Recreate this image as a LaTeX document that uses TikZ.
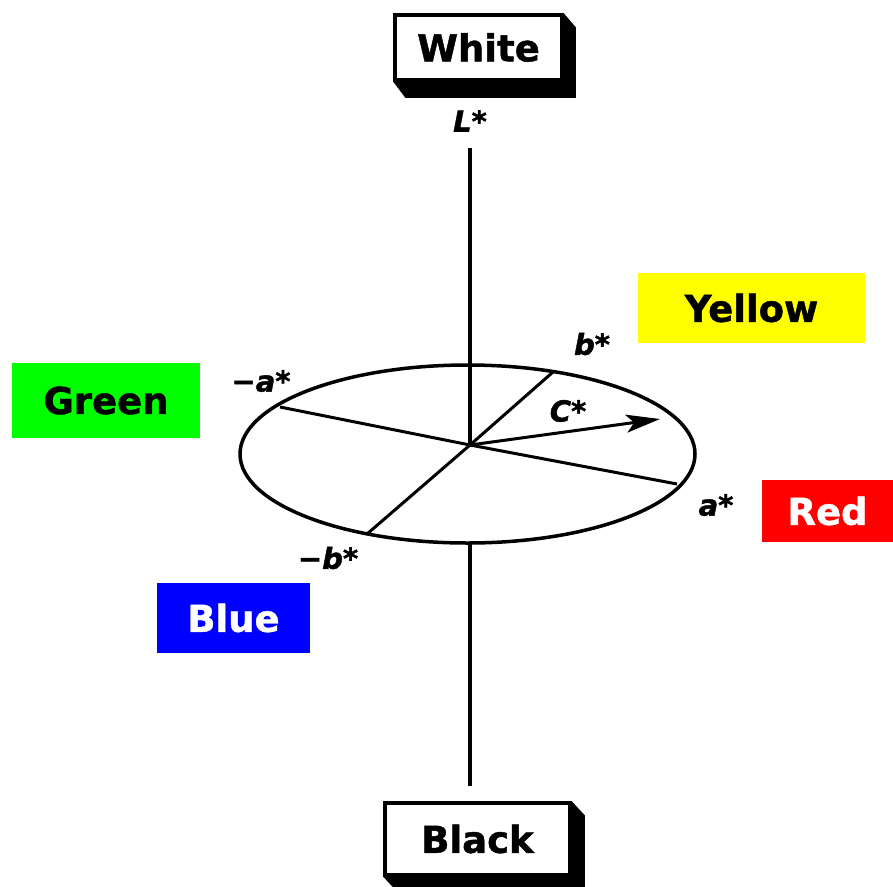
\documentclass[tikz,border=0pt]{standalone}
\usepackage{fontspec}
\setmainfont{DejaVu Sans}[BoldFeatures={FakeBold=1.2},BoldItalicFeatures={FakeBold=1.5}]
\usetikzlibrary{arrows.meta,backgrounds,calc}
\begin{document}
\begin{tikzpicture}[x=1pt,y=-1pt,
  lbl/.style={font=\fontsize{37}{40}\selectfont\bfseries, inner sep=0pt},
  axlbl/.style={font=\fontsize{29}{31}\selectfont\bfseries\itshape, inner sep=0pt},
  endbox/.style={lbl, draw=black, line width=3.5pt, fill=white},
  colbox/.style={lbl},
  axis/.style={line width=3.5pt},
  spoke/.style={line width=3pt}]
\useasboundingbox (0,0) rectangle (893,886);
% end boxes
\node[endbox, minimum width=167pt, minimum height=65pt] (w) at (478.5,47.5) {White};
\node[endbox, minimum width=185pt, minimum height=72pt] (k) at (477.5,839) {Black};
\begin{scope}[on background layer]
\fill[black] (w.north east) -- ($(w.north east)+(12,14)$) -- ($(w.south east)+(12,16)$) -- ($(w.south west)+(12,16)$) -- (w.south west) -- cycle;
\fill[black] (k.north east) -- ($(k.north east)+(13,14)$) -- ($(k.south east)+(13,14)$) -- ($(k.south west)+(13,14)$) -- (k.south west) -- cycle;
\end{scope}
% coloured boxes
\node[colbox, fill={rgb,255:red,255;green,255;blue,0}, minimum width=227pt, minimum height=70pt] (y) at (751.5,308) {Yellow};
\node[colbox, fill={rgb,255:red,0;green,255;blue,0}, minimum width=188pt, minimum height=75pt] (g) at (106,400.5) {Green};
\node[colbox, fill={rgb,255:red,255;green,0;blue,0}, text=white, minimum width=131pt, minimum height=62pt] (r) at (827.5,511) {Red};
\node[colbox, fill={rgb,255:red,0;green,0;blue,255}, text=white, minimum width=153pt, minimum height=70pt] (bl) at (233.5,618) {Blue};
% axis
\coordinate (ltop) at (470,148);
\coordinate (lbot) at (470,786);
\coordinate (etop) at (470,366);
\draw[axis] (ltop) -- (lbot);
% ellipse
\draw[line width=3.5pt, fill=white] (467.5,454) ellipse [x radius=227.5, y radius=89];
% spokes
\coordinate (o) at (470,445);
\coordinate (ma) at (280,407);
\coordinate (pa) at (677,484);
\coordinate (pb) at (553,372);
\coordinate (mb) at (367,534);
\coordinate (ce) at (660,419);
\draw[axis] (etop) -- (o);
\draw[spoke] (ma) -- (o) -- (pa);
\draw[spoke] (mb) -- (o) -- (pb);
\draw[spoke, -{Stealth[length=34pt,width=18pt,inset=8pt]}] (o) -- (ce);
% labels
\node[axlbl] (L) at (470,121) {L*};
\node[axlbl] (lma) at (261,381) {−a*};
\node[axlbl] (lpb) at (592,344) {b*};
\node[axlbl] (lc) at (568,411) {C*};
\node[axlbl] (lpa) at (716,505) {a*};
\node[axlbl] (lmb) at (328,558) {−b*};
\end{tikzpicture}
\end{document}
